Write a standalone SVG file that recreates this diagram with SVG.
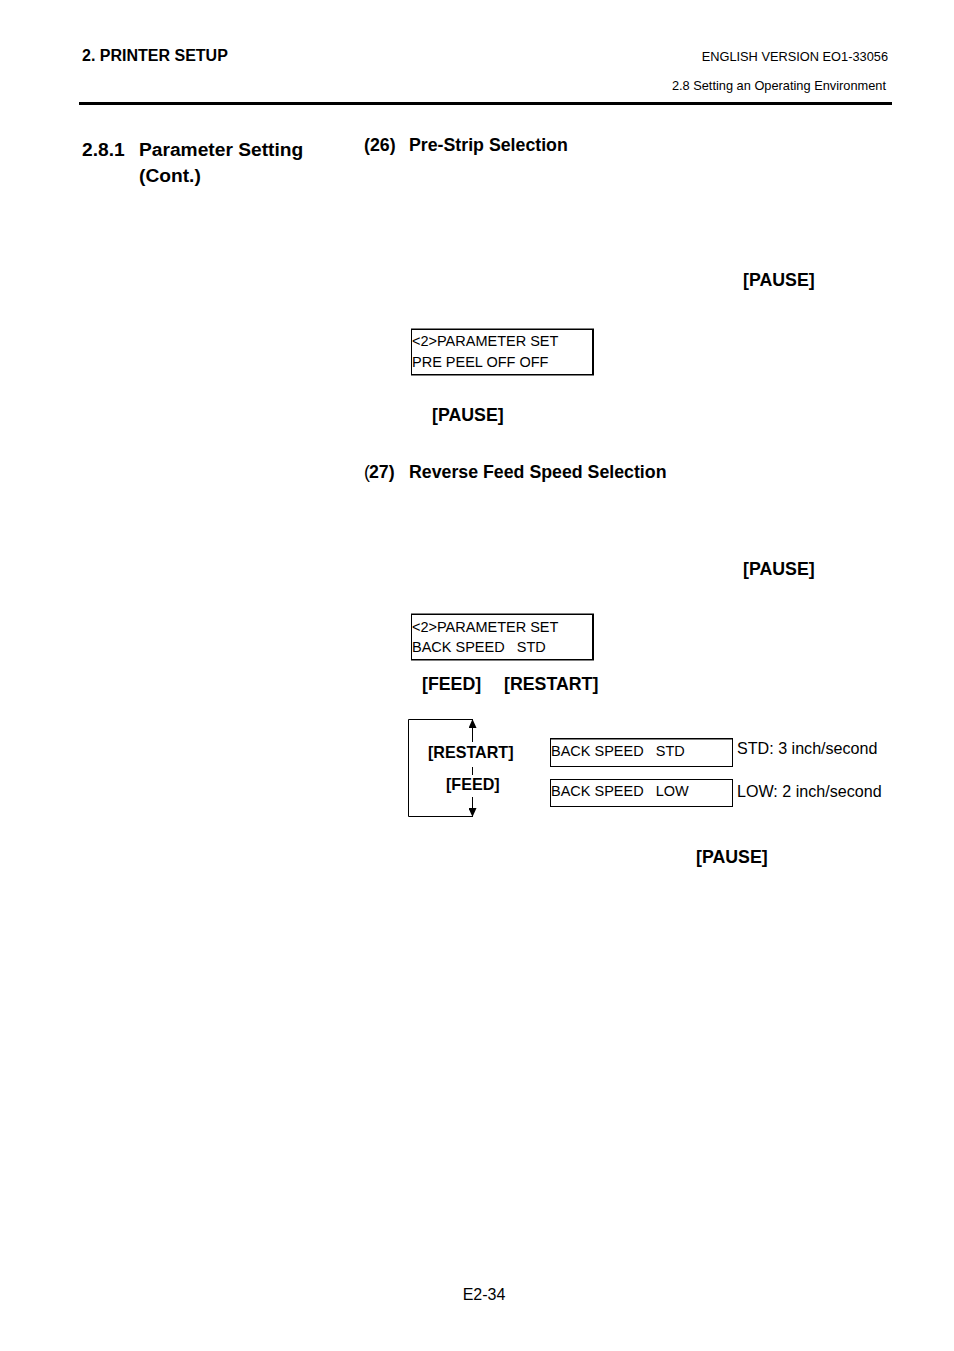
<svg xmlns="http://www.w3.org/2000/svg" width="954" height="1351" viewBox="0 0 954 1351">
<style>
text{font-family:"Liberation Sans",Arial,sans-serif;fill:#000;white-space:pre}
.b{font-weight:bold;font-size:17.75px}
.h{font-weight:bold;font-size:19.2px}
.m{font-weight:bold;font-size:16.1px}
.s{font-size:14.5px}
.r{font-size:16.1px}
.t{font-size:12.8px}
.box{fill:#fff;stroke:#000;stroke-width:1}
.line{fill:none;stroke:#000;stroke-width:1}
</style>
<defs><marker id="a" markerWidth="10" markerHeight="8" refX="9" refY="4" orient="auto" markerUnits="userSpaceOnUse"><path d="M0 0L9 4L0 8Z" fill="#000"/></marker></defs>
<rect width="954" height="1351" fill="#fff"/>
<text x="82" y="61" font-weight="bold" font-size="16">2. PRINTER SETUP</text>
<text x="888" y="61" text-anchor="end" class="t">ENGLISH VERSION EO1-33056</text>
<text x="886" y="90" text-anchor="end" class="t">2.8 Setting an Operating Environment</text>
<rect x="79" y="102" width="813" height="3" fill="#000"/>
<text x="82" y="156" class="h">2.8.1</text>
<text x="139" y="156" class="h">Parameter Setting</text>
<text x="139" y="182" class="h">(Cont.)</text>
<text x="364" y="151" class="b">(26)</text><text x="409" y="151" class="b">Pre-Strip Selection</text>
<text x="743" y="286" class="b">[PAUSE]</text>
<g id="lcd1"><rect x="411.500" y="329.500" width="182" height="45" class="box"/><rect x="411" y="328.500" width="183" height="1.500" fill="#000"/><rect x="592" y="329" width="2" height="46" fill="#000"/><rect x="411" y="374" width="183" height="1.500" fill="#000"/>
<text x="412" y="346" class="s">&lt;2&gt;PARAMETER SET</text><text x="412" y="367" class="s">PRE PEEL OFF OFF</text></g>
<text x="432" y="421" class="b">[PAUSE]</text>
<text x="364" y="478" font-size="17.75">(</text><text x="369" y="478" class="b">27)</text><text x="409" y="478" class="b">Reverse Feed Speed Selection</text>
<text x="743" y="575" class="b">[PAUSE]</text>
<g id="lcd2"><rect x="411.500" y="614.500" width="182" height="45" class="box"/><rect x="411" y="613.500" width="183" height="1.500" fill="#000"/><rect x="592" y="614" width="2" height="46" fill="#000"/><rect x="411" y="659" width="183" height="1.500" fill="#000"/>
<text x="412" y="632" class="s">&lt;2&gt;PARAMETER SET</text><text x="412" y="652" class="s">BACK SPEED   STD</text></g>
<text x="422" y="690" class="b">[FEED]</text><text x="504" y="690" class="b">[RESTART]</text>
<g id="connectors"><path class="line" d="M473 719.500H408.500V816.500H473"/><path class="line" d="M472.500 742V719" marker-end="url(#a)"/><path class="line" d="M472.500 767V775"/><path class="line" d="M472.500 797V817" marker-end="url(#a)"/></g>
<text x="428" y="758" class="m">[RESTART]</text>
<text x="446" y="790" class="m">[FEED]</text>
<g id="lcd3"><rect x="550.500" y="738.500" width="182" height="28" class="box"/><rect x="550" y="738" width="183" height="1.500" fill="#000"/><text x="551" y="756" class="s">BACK SPEED   STD</text></g>
<g id="lcd4"><rect x="550.500" y="779.500" width="182" height="27" class="box"/><text x="551" y="796" class="s">BACK SPEED   LOW</text></g>
<text x="737" y="754" class="r">STD: 3 inch/second</text>
<text x="737" y="797" class="r">LOW: 2 inch/second</text>
<text x="696" y="863" class="b">[PAUSE]</text>
<text x="484" y="1300" text-anchor="middle" font-size="16">E2-34</text>
</svg>
